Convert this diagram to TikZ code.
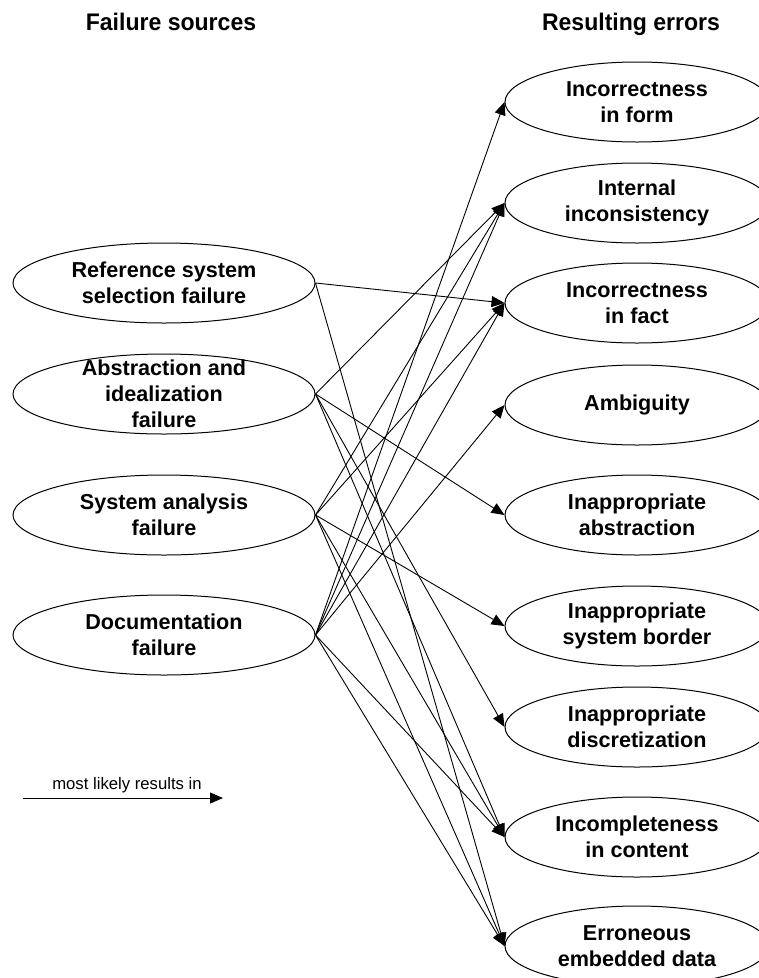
\documentclass[tikz,border=0pt]{standalone}
\usepackage{graphicx}
\usepackage{fontspec}
\setmainfont{Liberation Sans}
\usetikzlibrary{shapes.geometric,arrows.meta}
\begin{document}
\begin{tikzpicture}[x=1pt,y=-1pt,
  src/.style={ellipse,draw,line width=1pt,minimum width=302pt,minimum height=80pt,inner sep=0pt},
  err/.style={ellipse,draw,line width=1pt,minimum width=264pt,minimum height=80pt,inner sep=0pt},
  lbl/.style={align=center,font=\fontsize{21.6}{26}\selectfont\bfseries,inner sep=0pt},
  head/.style={anchor=base,font=\fontsize{24}{28}\selectfont\bfseries,inner sep=0pt},
  link/.style={line width=0.9pt,-{Triangle[length=13pt,width=11pt]}},
  legendtext/.style={anchor=base,font=\fontsize{16.7}{20}\selectfont,inner sep=0pt},
]
\useasboundingbox (0,0) rectangle (759,978);
\clip (0,0) rectangle (759,978);

% column headings
\node[head] (hsrc) at (171,30) {\scalebox{0.96}[1]{Failure sources}};
\node[head] (herr) at (631,30) {\scalebox{0.96}[1]{Resulting errors}};

% failure sources
\node[src] (R) at (164,283) {};
\node[lbl] (Rt) at (R) {Reference system\\selection failure};
\node[src] (A) at (164,394) {};
\node[lbl] (At) at (A) {Abstraction and\\idealization\\failure};
\node[src] (S) at (164,515) {};
\node[lbl] (St) at (S) {System analysis\\failure};
\node[src] (D) at (164,635) {};
\node[lbl] (Dt) at (D) {Documentation\\failure};

% resulting errors
\node[err] (T1) at (637,102) {};
\node[lbl] (T1t) at (T1) {Incorrectness\\in form};
\node[err] (T2) at (637,203) {};
\node[lbl] (T2t) at (T2) {Internal\\inconsistency};
\node[err] (T3) at (637,303) {};
\node[lbl] (T3t) at (T3) {Incorrectness\\in fact};
\node[err] (T4) at (637,405) {};
\node[lbl] (T4t) at (T4) {Ambiguity};
\node[err] (T5) at (637,515) {};
\node[lbl] (T5t) at (T5) {Inappropriate\\abstraction};
\node[err] (T6) at (637,626) {};
\node[lbl] (T6t) at (T6) {Inappropriate\\system border};
\node[err] (T7) at (637,727) {};
\node[lbl] (T7t) at (T7) {Inappropriate\\discretization};
\node[err] (T8) at (637,837) {};
\node[lbl] (T8t) at (T8) {Incompleteness\\in content};
\node[err] (T9) at (637,946) {};
\node[lbl] (T9t) at (T9) {Erroneous\\embedded data};

% source -> error links
\draw[link] (R.east) -- (T3.west);
\draw[link] (R.east) -- (T9.west);
\draw[link] (A.east) -- (T2.west);
\draw[link] (A.east) -- (T5.west);
\draw[link] (A.east) -- (T7.west);
\draw[link] (A.east) -- (T8.west);
\draw[link] (S.east) -- (T2.west);
\draw[link] (S.east) -- (T3.west);
\draw[link] (S.east) -- (T6.west);
\draw[link] (S.east) -- (T8.west);
\draw[link] (S.east) -- (T9.west);
\draw[link] (D.east) -- (T1.west);
\draw[link] (D.east) -- (T2.west);
\draw[link] (D.east) -- (T3.west);
\draw[link] (D.east) -- (T4.west);
\draw[link] (D.east) -- (T8.west);
\draw[link] (D.east) -- (T9.west);

% legend
\coordinate (L1) at (23,798);
\coordinate (L2) at (223,798);
\draw[link] (L1) -- (L2);
\node[legendtext] (Lt) at (127,789) {most likely results in};
\end{tikzpicture}
\end{document}
